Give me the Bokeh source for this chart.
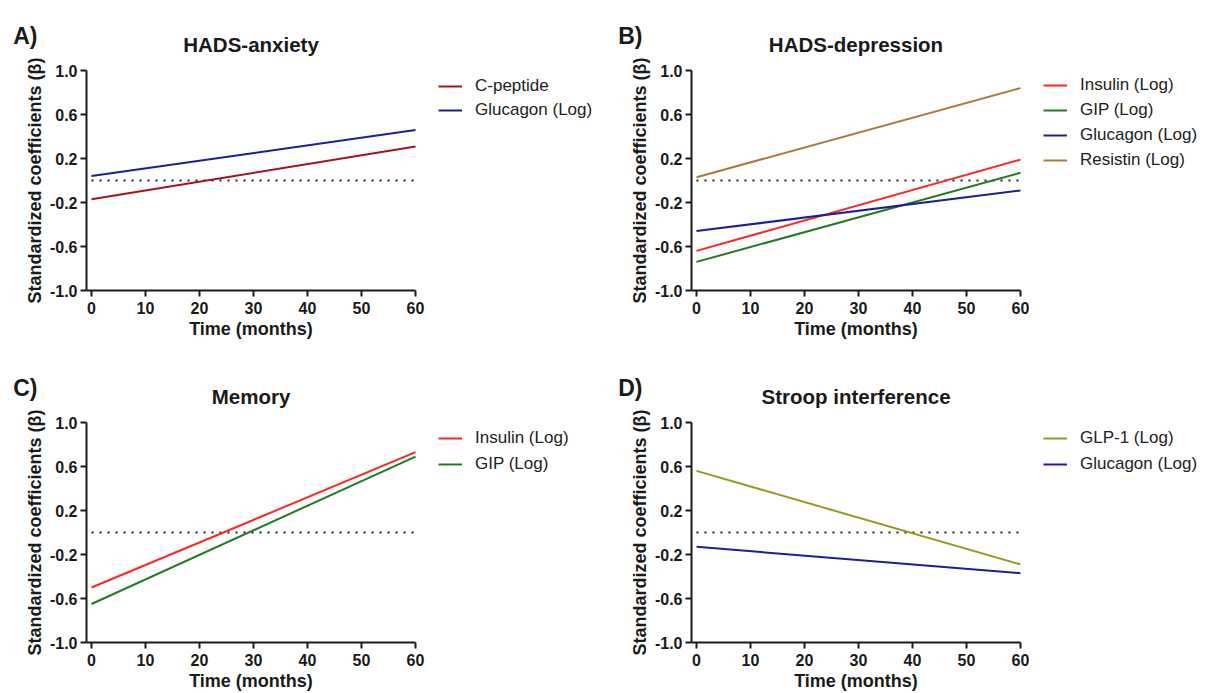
from bokeh.plotting import figure
from bokeh.models import (Range1d, FixedTicker, PrintfTickFormatter, Legend, LegendItem,
                          Label, LinearAxis, ColumnDataSource)
from bokeh.layouts import column, row
from bokeh.embed import file_html
from bokeh.resources import INLINE

# ---------------- data ----------------
time_months = [0, 60]
x_ticks = [0, 10, 20, 30, 40, 50, 60]
y_ticks = [-1.0, -0.6, -0.2, 0.2, 0.6, 1.0]
zero_ref = [0, 0]

anx_cpeptide = [-0.17, 0.31]
anx_glucagon = [0.04, 0.46]

dep_insulin = [-0.64, 0.19]
dep_gip = [-0.74, 0.07]
dep_glucagon = [-0.46, -0.09]
dep_resistin = [0.03, 0.84]

mem_insulin = [-0.50, 0.73]
mem_gip = [-0.65, 0.69]

stroop_glp1 = [0.56, -0.29]
stroop_glucagon = [-0.13, -0.37]

panel_letters = ["A)", "B)", "C)", "D)"]
panel_titles = ["HADS-anxiety", "HADS-depression", "Memory", "Stroop interference"]

C_CPEP = "#A3151C"
C_GLUC = "#1E1E96"
C_INS = "#FF2525"
C_GIP = "#237A23"
C_RES = "#A87B3C"
C_GLP = "#999A1F"

FONT = "Liberation Sans"
INK = "#1a1a1a"

# pixel geometry of each panel (layout only)
AX_LEFT, X0_PX, X60_PX = 86, 91, 415
Y_TOP_PX, Y_BOT_PX = 70, 290
PXM = (X60_PX - X0_PX) / 60.0          # pixels per month
PXB = (Y_BOT_PX - Y_TOP_PX) / 2.0      # pixels per beta unit
X_AXIS_START = -(X0_PX - AX_LEFT) / PXM


def make_panel(letter, title, series, spacing, width, height, legend_top):
    x_lo = -X0_PX / PXM
    x_hi = (width - X0_PX) / PXM
    y_hi = 1.0 + Y_TOP_PX / PXB
    y_lo = -1.0 - (height - Y_BOT_PX) / PXB
    p = figure(width=width, height=height,
               x_range=Range1d(x_lo, x_hi), y_range=Range1d(y_lo, y_hi),
               x_axis_type=None, y_axis_type=None,
               output_backend="svg", toolbar_location=None, min_border=0,
               background_fill_color="white", border_fill_color="white",
               outline_line_color=None)
    p.xgrid.visible = False
    p.ygrid.visible = False

    xax = LinearAxis(fixed_location=-1.0, bounds=(X_AXIS_START, 60))
    yax = LinearAxis(fixed_location=X_AXIS_START, bounds=(-1.0, 1.0))
    xax.ticker = FixedTicker(ticks=x_ticks)
    yax.ticker = FixedTicker(ticks=y_ticks)
    yax.formatter = PrintfTickFormatter(format="%.1f")
    for ax in (xax, yax):
        ax.axis_line_width = 2
        ax.axis_line_color = INK
        ax.major_tick_line_width = 2
        ax.major_tick_line_color = INK
        ax.major_tick_out = 6
        ax.major_tick_in = 0
        ax.minor_tick_line_color = None
        ax.major_label_text_font = FONT
        ax.major_label_text_font_style = "bold"
        ax.major_label_text_font_size = "16px"
        ax.major_label_text_color = INK
        ax.axis_label_text_font = FONT
        ax.axis_label_text_font_style = "bold"
        ax.axis_label_text_font_size = "18px"
        ax.axis_label_text_color = INK
    xax.axis_label = "Time (months)"
    yax.axis_label = "Standardized coefficients (\u03b2)"
    xax.major_label_standoff = 5
    yax.major_label_standoff = 3
    xax.axis_label_standoff = 2
    yax.axis_label_standoff = 2
    p.add_layout(xax, "below")
    p.add_layout(yax, "left")

    # dotted zero reference
    p.line(time_months, zero_ref, line_color="#222222", line_width=2, line_dash="2 6")

    items = []
    for name, vals, col in series:
        src = ColumnDataSource(dict(t=time_months, b=vals))
        r = p.line("t", "b", source=src, line_color=col, line_width=2)
        items.append(LegendItem(label=name, renderers=[r]))

    n = len(series)
    leg_h = n * 20 + (n - 1) * spacing
    leg = Legend(items=items, location=(438, height - legend_top - leg_h), orientation="vertical",
                 glyph_width=24, glyph_height=20, label_height=20, label_standoff=13,
                 spacing=spacing, padding=0, margin=0,
                 border_line_color=None, background_fill_alpha=0,
                 label_text_font=FONT, label_text_font_size="17px",
                 label_text_color="#222222")
    p.add_layout(leg)

    p.add_layout(Label(x=250.5, y=height - 44.3, x_units="screen", y_units="screen",
                       text=title, text_align="center", text_baseline="alphabetic",
                       text_font=FONT, text_font_style="bold", text_font_size="20.5px",
                       text_color=INK))
    p.add_layout(Label(x=12.7, y=height - 35, x_units="screen", y_units="screen",
                       text=letter, text_align="left", text_baseline="alphabetic",
                       text_font=FONT, text_font_style="bold", text_font_size="23px",
                       text_color=INK))
    return p


pA = make_panel(panel_letters[0], panel_titles[0],
                [("C-peptide", anx_cpeptide, C_CPEP), ("Glucagon (Log)", anx_glucagon, C_GLUC)],
                4, 605, 352, 76)
pB = make_panel(panel_letters[1], panel_titles[1],
                [("Insulin (Log)", dep_insulin, C_INS), ("GIP (Log)", dep_gip, C_GIP),
                 ("Glucagon (Log)", dep_glucagon, C_GLUC), ("Resistin (Log)", dep_resistin, C_RES)],
                5, 606, 352, 75)
pC = make_panel(panel_letters[2], panel_titles[2],
                [("Insulin (Log)", mem_insulin, C_INS), ("GIP (Log)", mem_gip, C_GIP)],
                6, 605, 341, 76.3)
pD = make_panel(panel_letters[3], panel_titles[3],
                [("GLP-1 (Log)", stroop_glp1, C_GLP), ("Glucagon (Log)", stroop_glucagon, C_GLUC)],
                6, 606, 341, 76.3)

layout = column(row(pA, pB), row(pC, pD))
open("out.html", "w").write(file_html(layout, INLINE))
